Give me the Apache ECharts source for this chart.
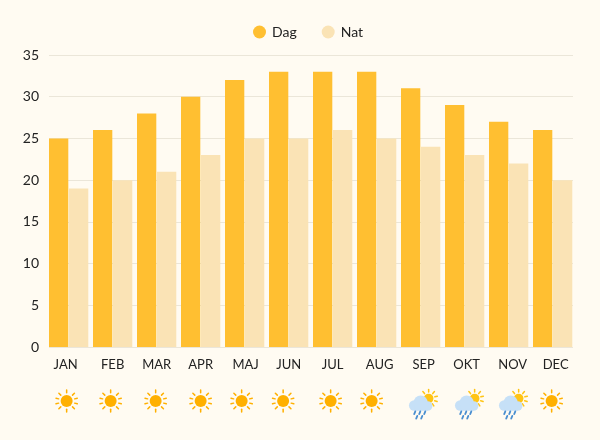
<!DOCTYPE html>
<html>
<head>
<meta charset="utf-8">
<title>Dag og nat</title>
<script src="https://cdn.jsdelivr.net/npm/echarts@6/dist/echarts.min.js"></script>
<style>
html, body { margin: 0; padding: 0; background: #fffbf2; }
#chart { width: 600px; height: 440px; }
</style>
</head>
<body>
<div id="chart"></div>
<script>
var months = ['JAN', 'FEB', 'MAR', 'APR', 'MAJ', 'JUN', 'JUL', 'AUG', 'SEP', 'OKT', 'NOV', 'DEC'];
var dag = [25, 26, 28, 30, 32, 33, 33, 33, 31, 29, 27, 26];
var nat = [19, 20, 21, 23, 25, 25, 26, 25, 24, 23, 22, 20];
var vejr = ['sol', 'sol', 'sol', 'sol', 'sol', 'sol', 'sol', 'sol', 'regn', 'regn', 'regn', 'sol'];

// the month labels and icons do not sit exactly on the band centres in the original
var labelShift = [-3, 0, 0, 0, 1, 0, 0, 3, 3, 2, 4, 3];
var iconShift = [-2, -2, -1, 0, -3, -5.5, -2, -5, 0, 2, 2, -1];

var FONT = 'Lato';

function ray(cx, cy, deg, r1, r2, color) {
    var a = deg * Math.PI / 180;
    return {
        type: 'line',
        shape: {
            x1: cx + Math.cos(a) * r1, y1: cy - Math.sin(a) * r1,
            x2: cx + Math.cos(a) * r2, y2: cy - Math.sin(a) * r2
        },
        style: { stroke: color, lineWidth: 1.5, lineCap: 'round' }
    };
}

function dot(cx, cy, r, color) {
    return { type: 'circle', shape: { cx: cx, cy: cy, r: r }, style: { fill: color } };
}

function sunIcon(x, y) {
    var out = [dot(x, y, 6, '#ffb000')];
    [90, 45, 15, -15, -45, -90, -135, -165, 165, 135].forEach(function (d) {
        out.push(ray(x, y, d, 8.3, 11, '#ffb000'));
    });
    return out;
}

function rainIcon(x, y) {
    var out = [dot(x + 8, y - 2.5, 4.8, '#ffc414')];
    [90, 50, 15, -20, -55, 130].forEach(function (d) {
        out.push(ray(x + 8, y - 2.5, d, 6.4, 9, '#ffc414'));
    });
    var blue = '#c6e0f7';
    out.push(dot(x - 6.5, y + 4.5, 5.2, blue));
    out.push(dot(x, y + 1.5, 7, blue));
    out.push(dot(x + 7, y + 5, 4.8, blue));
    out.push({ type: 'rect', shape: { x: x - 6.5, y: y + 4, width: 13.5, height: 5.8 }, style: { fill: blue } });
    [[-6, 9.5], [-1, 9.5], [4, 9.5], [-4, 14], [1, 14]].forEach(function (p) {
        out.push({
            type: 'line',
            shape: { x1: x + p[0] + 0.6, y1: y + p[1] + 1, x2: x + p[0] - 0.4, y2: y + p[1] + 3.5 },
            style: { stroke: '#4a8ed0', lineWidth: 1.9, lineCap: 'round' }
        });
    });
    return out;
}

var labelRich = {};
labelShift.forEach(function (s, i) {
    labelRich['m' + i] = {
        fontFamily: FONT,
        fontSize: 13,
        color: '#222222',
        padding: s > 0 ? [0, 0, 0, s * 2] : [0, -s * 2, 0, 0]
    };
});

var chart = echarts.init(document.getElementById('chart'));

var option = {
    backgroundColor: '#fffbf2',
    animation: false,
    textStyle: { fontFamily: FONT },
    legend: {
        data: ['Dag', 'Nat'],
        left: 248,
        top: 20,
        icon: 'circle',
        itemWidth: 13,
        itemHeight: 13,
        itemGap: 25,
        textStyle: { fontFamily: FONT, fontSize: 14, color: '#222222', padding: [0, 0, 0, 1] }
    },
    // grid 0 holds the bars, grid 1 only the value axis and its gridlines (they stop at the bar edges)
    grid: [
        { left: 46.65, width: 528, top: 55, height: 292 },
        { left: 49, width: 524, top: 55, height: 292 }
    ],
    xAxis: [{
        type: 'category',
        data: months,
        axisLine: { show: false },
        axisTick: { show: false },
        axisLabel: {
            interval: 0,
            margin: 11,
            formatter: function (value, index) {
                return '{m' + index + '|' + value + '}';
            },
            rich: labelRich
        }
    }, {
        gridIndex: 1,
        type: 'value',
        min: 0,
        max: 1,
        show: false
    }],
    yAxis: [{
        type: 'value',
        min: 0,
        max: 35,
        interval: 5,
        show: false
    }, {
        gridIndex: 1,
        type: 'value',
        min: 0,
        max: 35,
        interval: 5,
        axisLine: { show: false },
        axisTick: { show: false },
        axisLabel: { margin: 10, fontFamily: FONT, fontSize: 14, color: '#222222' },
        splitLine: { lineStyle: { color: '#ebe6d9', width: 1 } }
    }],
    series: [{
        name: 'Dag',
        type: 'bar',
        data: dag,
        barWidth: 19.3,
        barGap: '3.6%',
        itemStyle: { color: '#ffbf31' }
    }, {
        name: 'Nat',
        type: 'bar',
        data: nat,
        barWidth: 19.3,
        itemStyle: { color: '#fae3b5' }
    }, {
        name: 'Vejr',
        type: 'custom',
        data: vejr.map(function (v, i) { return [i, 0]; }),
        clip: false,
        silent: true,
        renderItem: function (params, api) {
            var i = api.value(0);
            var p = api.coord([i, 0]);
            var x = p[0] + iconShift[i];
            var y = p[1] + 54;
            return {
                type: 'group',
                children: vejr[i] === 'sol' ? sunIcon(x, y) : rainIcon(x, y)
            };
        }
    }]
};

chart.setOption(option);
</script>
</body>
</html>
